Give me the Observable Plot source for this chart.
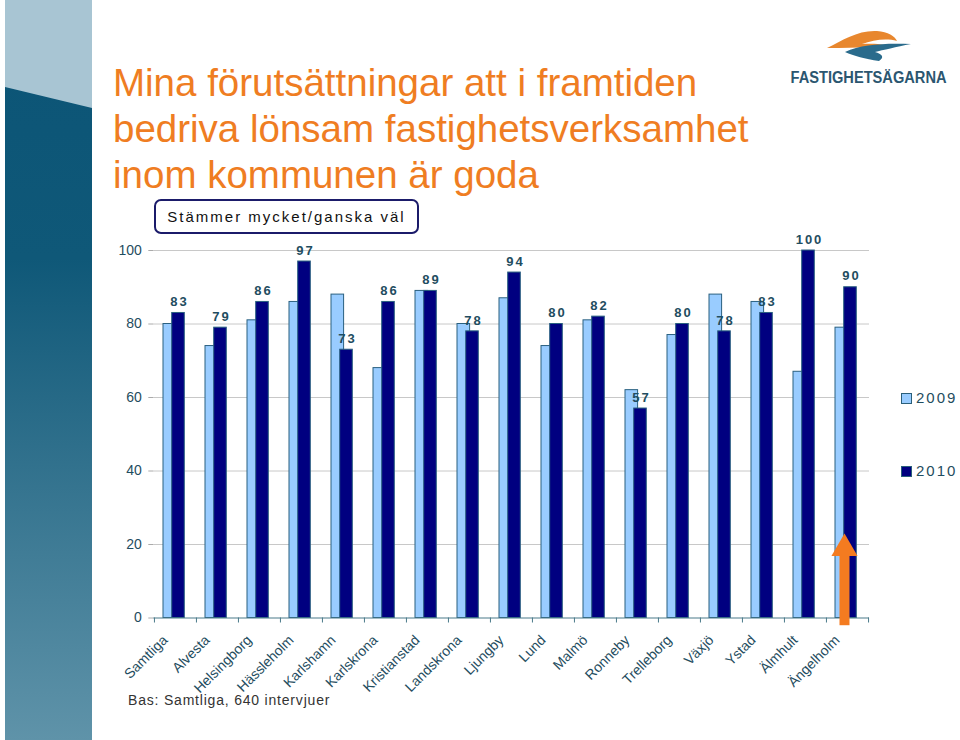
<!DOCTYPE html>
<html>
<head>
<meta charset="utf-8">
<script src="https://cdn.jsdelivr.net/npm/d3@7"></script>
<script src="https://cdn.jsdelivr.net/npm/@observablehq/plot@0.6"></script>
<style>
  html, body { margin: 0; padding: 0; background: #fff; }
  body { width: 960px; height: 740px; position: relative; overflow: hidden; font-family: "Liberation Sans", Arial, sans-serif; }
  #strip { position: absolute; left: 5px; top: 0; width: 87px; height: 740px; }
  #title { position: absolute; left: 113px; top: 60px; font-size: 38.5px; line-height: 46px; color: #ef7d22; white-space: nowrap; }
  #logo { position: absolute; left: 770px; top: 20px; }
  #box { position: absolute; left: 154px; top: 199px; width: 261px; height: 31px; border: 2px solid #1b1b6a; border-radius: 7px; box-sizing: content-box; text-align: center; line-height: 31px; font-size: 15px; letter-spacing: 2px; color: #111; white-space: nowrap; }
  #chart { position: absolute; left: 0; top: 230px; }
  .leg { position: absolute; left: 901px; font-size: 15px; letter-spacing: 2px; color: #1f4d60; }
  .leg span.sw { position: absolute; left: 0; width: 9px; height: 9px; border: 1px solid #2a5f7a; }
  .leg span.tx { position: absolute; left: 15px; white-space: nowrap; }
  #caption { position: absolute; left: 128px; top: 692px; font-size: 14px; letter-spacing: 0.8px; color: #333; white-space: nowrap; }
</style>
</head>
<body>
<svg id="strip" width="87" height="740">
  <defs>
    <linearGradient id="sg" x1="0" y1="0" x2="0" y2="1">
      <stop offset="0" stop-color="#0b5476"/>
      <stop offset="0.35" stop-color="#0f5878"/>
      <stop offset="1" stop-color="#5f93a9"/>
    </linearGradient>
  </defs>
  <rect x="0" y="0" width="87" height="740" fill="url(#sg)"/>
  <polygon points="0,0 87,0 87,108 0,87" fill="#a8c5d3"/>
</svg>
<div id="title">Mina förutsättningar att i framtiden<br>bedriva lönsam fastighetsverksamhet<br>inom kommunen är goda</div>
<svg id="logo" width="190" height="80">
  <g transform="translate(-770,-20)">
    <path d="M827,48 C843,40 858,30 877,31 C888,32 895,36 897,41 C886,38 873,40 862,44 C878,43 888,45 891,48 C870,47 850,48 827,48 Z" fill="#e8872e"/>
    <path d="M845,52 C862,44 886,43 911,44 C896,47 883,50 875,52 C882,54 885,57 879,61 C865,59 854,56 845,52 Z" fill="#2a6b8c"/>
    <text x="790.5" y="82.5" textLength="156" lengthAdjust="spacingAndGlyphs" font-family="Liberation Sans, Arial, sans-serif" font-weight="bold" font-size="16" fill="#2b5670">FASTIGHETSÄGARNA</text>
  </g>
</svg>
<div id="box">Stämmer mycket/ganska väl</div>
<div id="chart"></div>
<div class="leg" style="top:392px"><span class="sw" style="top:1px;background:#99ccff"></span><span class="tx" style="top:-3px">2009</span></div>
<div class="leg" style="top:465px"><span class="sw" style="top:1px;background:#000080"></span><span class="tx" style="top:-3px">2010</span></div>
<div id="caption">Bas: Samtliga, 640 intervjuer</div>
<script>
const categories = ["Samtliga","Alvesta","Helsingborg","Hässleholm","Karlshamn","Karlskrona","Kristianstad","Landskrona","Ljungby","Lund","Malmö","Ronneby","Trelleborg","Växjö","Ystad","Älmhult","Ängelholm"];
const v2009 = [80,74,81,86,88,68,89,80,87,74,81,62,77,88,86,67,79];
const v2010 = [83,79,86,97,73,86,89,78,94,80,82,57,80,78,83,100,90];
const yTicks = [0,20,40,60,80,100];
const highlighted = ["Ängelholm"];

const d2009 = categories.map((c, i) => ({cat: c, value: v2009[i]}));
const d2010 = categories.map((c, i) => ({cat: c, value: v2010[i]}));

const teal = "#1f4d60";
const step = (869 - 153.3) / categories.length;
const barW = 12.7;
const inset = (step - barW) / 2;
const tickLen = 5 / 3.675;

const chart = Plot.plot({
  width: 960,
  height: 510,
  marginLeft: 153.3,
  marginRight: 91,
  marginTop: 20,
  marginBottom: 122.5,
  style: {fontFamily: "Liberation Sans, Arial, sans-serif", background: "transparent", overflow: "visible"},
  x: {domain: categories, padding: 0, axis: null, label: null},
  y: {domain: [0, 100], axis: null, label: null},
  marks: [
    Plot.ruleY(yTicks.filter(t => t > 0), {stroke: "#c8c8c8", strokeWidth: 1}),
    Plot.axisY(yTicks, {tickSize: 5, tickPadding: 7, fontSize: 14, color: teal, stroke: "#aaaaaa", label: null, tickFormat: d => String(d)}),
    Plot.barY(d2009, {x: "cat", y: "value", fill: "#99ccff", stroke: "#2a6080", strokeWidth: 1, insetLeft: inset, insetRight: inset, dx: -5.7}),
    Plot.barY(d2010, {x: "cat", y: "value", fill: "#000080", stroke: "#2a6080", strokeWidth: 1, insetLeft: inset, insetRight: inset, dx: 3.0}),
    Plot.ruleY([0], {stroke: "#4a7a8a", strokeWidth: 1.2}),
    Plot.ruleX(categories, {x: d => d, y1: 0, y2: -tickLen, dx: -step / 2, stroke: "#4a7a8a"}),
    Plot.ruleX(categories.slice(-1), {x: d => d, y1: 0, y2: -tickLen, dx: step / 2, stroke: "#4a7a8a"}),
    Plot.text(d2010, {x: "cat", y: "value", text: d => String(d.value), dy: -11, dx: 4, fontSize: 13, fontWeight: "bold", fill: teal}),
    Plot.text(categories, {x: d => d, frameAnchor: "bottom", rotate: -45, textAnchor: "end", lineAnchor: "bottom", dx: -7, dy: 23, fontSize: 14, fill: teal}),
    Plot.ruleX(highlighted, {x: d => d, y1: -2.1, y2: 17, dx: -3, stroke: "#f47b20", strokeWidth: 10}),
    Plot.dot(highlighted, {x: d => d, y: 18.9, dx: -3, symbol: "triangle", r: 9.7, fill: "#f47b20", stroke: "none"})
  ]
});
const textGroups = chart.querySelectorAll('g[aria-label="text"]');
if (textGroups.length) d3.select(textGroups[0]).selectAll("text").style("letter-spacing", "2px");
document.getElementById("chart").appendChild(chart);
</script>
</body>
</html>
